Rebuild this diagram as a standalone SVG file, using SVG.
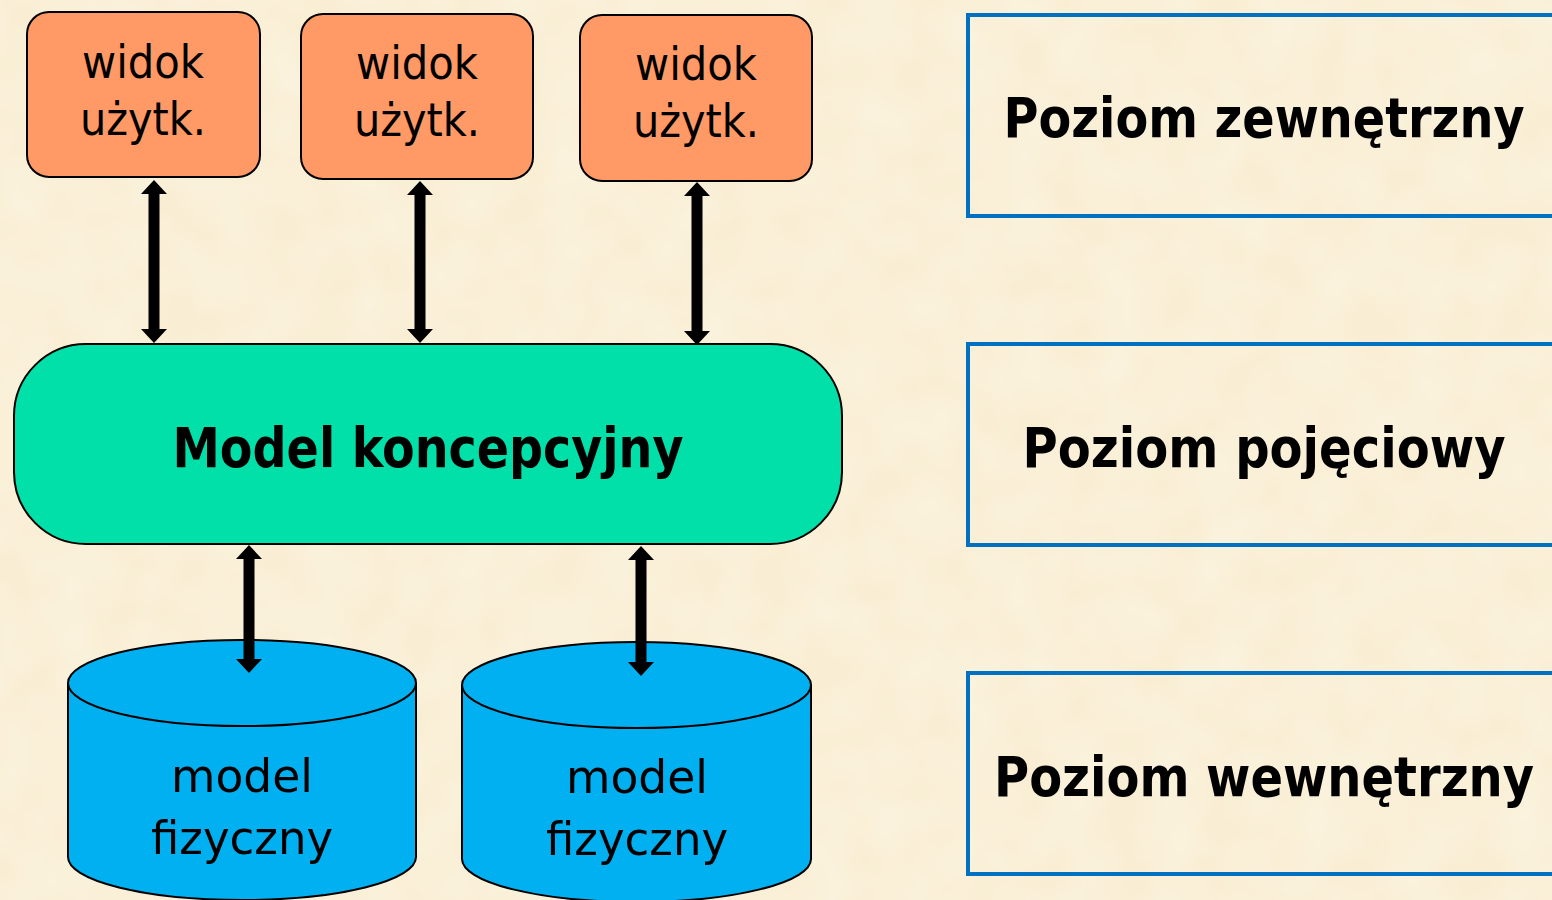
<svg xmlns="http://www.w3.org/2000/svg" width="1552" height="900" viewBox="0 0 1552 900">
  <defs>
    <!-- soft parchment mottling for the backdrop -->
    <filter id="grain" x="0" y="0" width="100%" height="100%">
      <feTurbulence type="fractalNoise" baseFrequency="0.02" numOctaves="2" seed="4"/>
      <feColorMatrix type="matrix" values="0 0 0 0 1  0 0 0 0 0.98  0 0 0 0 0.93  0 0 0 0.5 -0.12"/>
    </filter>
  </defs>
  <style>
    .view { fill: #FF9966; stroke: #000; stroke-width: 2; }
    .cyl { fill: #00B0F0; stroke: #000; stroke-width: 2; }
    .level { fill: none; stroke: #0070C0; stroke-width: 4; }
    .t { font-family: "DejaVu Sans Condensed", "DejaVu Sans", "Liberation Sans", sans-serif; fill: #000; text-anchor: middle; }
    .n { font-size: 47px; }
    .b { font-size: 55px; font-weight: bold; }
    .arrow { fill: #000; }
  </style>

  <!-- background -->
  <rect width="1552" height="900" fill="#F9EED3"/>
  <rect width="1552" height="900" filter="url(#grain)"/>

  <!-- user views -->
  <g id="view1">
    <rect class="view" x="27" y="12" width="233" height="165" rx="22"/>
    <text class="t n" x="143" y="78" textLength="122" lengthAdjust="spacingAndGlyphs">widok</text>
    <text class="t n" x="143" y="135" textLength="126" lengthAdjust="spacingAndGlyphs">użytk.</text>
  </g>
  <g id="view2">
    <rect class="view" x="301" y="14" width="232" height="165" rx="22"/>
    <text class="t n" x="417" y="79" textLength="122" lengthAdjust="spacingAndGlyphs">widok</text>
    <text class="t n" x="417" y="136" textLength="126" lengthAdjust="spacingAndGlyphs">użytk.</text>
  </g>
  <g id="view3">
    <rect class="view" x="580" y="15" width="232" height="166" rx="22"/>
    <text class="t n" x="696" y="80" textLength="122" lengthAdjust="spacingAndGlyphs">widok</text>
    <text class="t n" x="696" y="137" textLength="126" lengthAdjust="spacingAndGlyphs">użytk.</text>
  </g>

  <!-- conceptual model -->
  <g id="concept">
    <rect x="14" y="344" width="828" height="200" rx="72" fill="#00E0A8" stroke="#000" stroke-width="2"/>
    <text class="t b" x="428" y="467" textLength="511" lengthAdjust="spacingAndGlyphs">Model koncepcyjny</text>
  </g>

  <!-- physical models -->
  <g id="physical1">
    <path class="cyl" d="M68,683 L68,857 A174,43 0 0 0 416,857 L416,683"/>
    <ellipse class="cyl" cx="242" cy="683" rx="174" ry="43"/>
    <text class="t n" x="242" y="792" textLength="142" lengthAdjust="spacingAndGlyphs">model</text>
    <text class="t n" x="242" y="854" textLength="182" lengthAdjust="spacingAndGlyphs">fizyczny</text>
  </g>
  <g id="physical2">
    <path class="cyl" d="M462,685 L462,859 A174.5,43 0 0 0 811,859 L811,685"/>
    <ellipse class="cyl" cx="636.5" cy="685" rx="174.5" ry="43"/>
    <text class="t n" x="637" y="793" textLength="142" lengthAdjust="spacingAndGlyphs">model</text>
    <text class="t n" x="637" y="855" textLength="182" lengthAdjust="spacingAndGlyphs">fizyczny</text>
  </g>

  <!-- level labels -->
  <g id="level-external">
    <rect class="level" x="968" y="15" width="600" height="201"/>
    <text class="t b" x="1264" y="137" textLength="521" lengthAdjust="spacingAndGlyphs">Poziom zewnętrzny</text>
  </g>
  <g id="level-conceptual">
    <rect class="level" x="968" y="344" width="600" height="201"/>
    <text class="t b" x="1264" y="467" textLength="483" lengthAdjust="spacingAndGlyphs">Poziom pojęciowy</text>
  </g>
  <g id="level-internal">
    <rect class="level" x="968" y="673" width="600" height="201"/>
    <text class="t b" x="1264" y="796" textLength="540" lengthAdjust="spacingAndGlyphs">Poziom wewnętrzny</text>
  </g>

  <!-- connectors: double-headed arrows (shaft 11px, heads 26x14px) -->
  <g id="connectors">
    <polygon class="arrow" points="154,180 167,194 159.5,194 159.5,329 167,329 154,343 141,329 148.5,329 148.5,194 141,194"/>
    <polygon class="arrow" points="420,181 433,195 425.5,195 425.5,329 433,329 420,343 407,329 414.5,329 414.5,195 407,195"/>
    <polygon class="arrow" points="697,182 710,196 702.5,196 702.5,331 710,331 697,345 684,331 691.5,331 691.5,196 684,196"/>
    <polygon class="arrow" points="249,545 262,559 254.5,559 254.5,659 262,659 249,673 236,659 243.5,659 243.5,559 236,559"/>
    <polygon class="arrow" points="641,546 654,560 646.5,560 646.5,662 654,662 641,676 628,662 635.5,662 635.5,560 628,560"/>
  </g>
</svg>
